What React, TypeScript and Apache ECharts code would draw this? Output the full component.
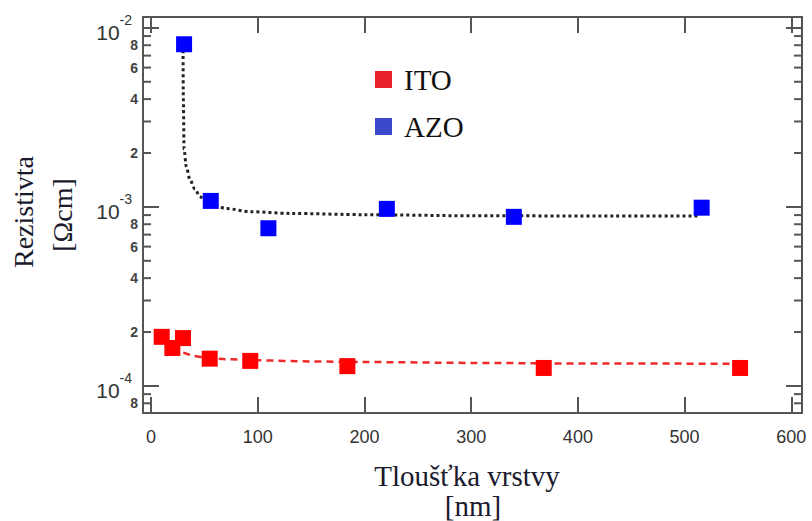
import React, { useEffect, useRef } from 'react';
import * as echarts from 'echarts';

// Axis extents
const X_MIN = -7.5;
const X_MAX = 610;
const Y_MIN = 7.06e-5;
const Y_MAX = 1.15e-2;

// ITO measured points
const itoThickness = [10, 20, 30, 55, 93, 184, 368, 552];
const itoResistivity = [1.88e-4, 1.63e-4, 1.85e-4, 1.42e-4, 1.38e-4, 1.29e-4, 1.26e-4, 1.26e-4];

// AZO measured points
const azoThickness = [31, 56, 110, 221, 340, 516];
const azoResistivity = [8.1e-3, 1.08e-3, 7.6e-4, 9.75e-4, 8.8e-4, 9.9e-4];

// ITO fit curve
const itoFitThickness = [20, 25, 30, 40, 50, 70, 100, 150, 200, 300, 400, 552];
const itoFitResistivity = [1.63e-4, 1.57e-4, 1.53e-4, 1.47e-4, 1.44e-4, 1.41e-4, 1.39e-4, 1.37e-4, 1.36e-4, 1.345e-4, 1.335e-4, 1.33e-4];

// AZO fit curve
const azoFitThickness = [30, 30.3, 31, 33, 36.5, 41, 46, 52, 58, 70, 93, 130, 200, 300, 420, 512];
const azoFitResistivity = [8.1e-3, 4.0e-3, 2.1e-3, 1.68e-3, 1.42e-3, 1.26e-3, 1.14e-3, 1.07e-3, 1.03e-3, 9.8e-4, 9.4e-4, 9.2e-4, 9.05e-4, 8.92e-4, 8.9e-4, 8.9e-4];

// Minor ticks of the log axis and their labels
const yMinorTicks = [8e-5, 9e-5, 2e-4, 3e-4, 4e-4, 5e-4, 6e-4, 7e-4, 8e-4, 9e-4, 2e-3, 3e-3, 4e-3, 5e-3, 6e-3, 7e-3, 8e-3, 9e-3];
const yMinorLabels = ['8', '', '2', '', '4', '', '6', '', '8', '', '2', '', '4', '', '6', '', '8', ''];

const xTickLabels = ['0', '100', '200', '300', '400', '500', '600'];

const AXIS_COLOR = '#555555';
const TITLE_COLOR = '#1a1a2e';

export default function App() {
  const ref = useRef<HTMLDivElement>(null);

  useEffect(() => {
    if (!ref.current) return;
    const chart = echarts.init(ref.current, undefined, { renderer: 'svg' });

    const pair = (xs: number[], ys: number[]) => xs.map((x, i) => [x, ys[i]]);

    const decadeFormatter = (v: number) => {
      const e = Math.log10(v);
      const r = Math.round(e);
      if (Math.abs(e - r) > 1e-6) return '';
      return '{b|10}{s|' + r + '}';
    };

    const xFormatter = (v: number) => {
      const s = String(Math.round(v));
      return Math.abs(v - Math.round(v)) < 1e-6 && xTickLabels.indexOf(s) >= 0 ? s : '';
    };

    const option: any = {
      animation: false,
      backgroundColor: '#ffffff',
      grid: { left: 143, right: 10, top: 17, bottom: 108 },
      legend: {
        data: [
          { name: 'ITO', itemStyle: { color: '#e8202a' } },
          { name: 'AZO', itemStyle: { color: '#3a48cc' } },
        ],
        orient: 'vertical',
        left: 370,
        top: 60,
        itemWidth: 17,
        itemHeight: 17,
        itemGap: 18,
        icon: 'rect',
        selectedMode: false,
        textStyle: {
          fontFamily: 'Liberation Serif',
          fontSize: 29,
          color: '#111111',
          padding: [0, 0, 0, 7],
        },
      },
      xAxis: [
        {
          type: 'value',
          min: X_MIN,
          max: X_MAX,
          position: 'bottom',
          axisLine: { show: true, onZero: false, lineStyle: { color: AXIS_COLOR, width: 2 } },
          axisTick: { show: true, inside: true, length: 16, lineStyle: { color: AXIS_COLOR, width: 2 } },
          splitLine: { show: false },
          axisLabel: {
            formatter: xFormatter,
            color: '#333333',
            fontSize: 18,
            fontFamily: 'Liberation Sans',
            margin: 15,
            showMinLabel: true,
            showMaxLabel: true,
          },
        },
        {
          type: 'value',
          min: X_MIN,
          max: X_MAX,
          position: 'top',
          axisLine: { show: true, onZero: false, lineStyle: { color: AXIS_COLOR, width: 2 } },
          axisTick: { show: true, inside: true, length: 16, lineStyle: { color: AXIS_COLOR, width: 2 } },
          splitLine: { show: false },
          axisLabel: { show: false },
        },
      ],
      yAxis: [
        {
          type: 'log',
          logBase: 10,
          min: Y_MIN,
          max: Y_MAX,
          position: 'left',
          axisLine: { show: true, onZero: false, lineStyle: { color: AXIS_COLOR, width: 2 } },
          axisTick: { show: true, inside: true, length: 16, lineStyle: { color: AXIS_COLOR, width: 2 } },
          splitLine: { show: false },
          axisLabel: {
            formatter: decadeFormatter,
            margin: 11,
            rich: {
              b: { fontSize: 21, fontFamily: 'Liberation Sans', color: '#333333', verticalAlign: 'bottom', lineHeight: 30 },
              s: { fontSize: 14, fontFamily: 'Liberation Sans', color: '#333333', verticalAlign: 'top', lineHeight: 30 },
            },
          },
        },
        {
          type: 'log',
          logBase: 10,
          min: Y_MIN,
          max: Y_MAX,
          position: 'right',
          axisLine: { show: true, onZero: false, lineStyle: { color: AXIS_COLOR, width: 2 } },
          axisTick: { show: true, inside: true, length: 16, lineStyle: { color: AXIS_COLOR, width: 2 } },
          splitLine: { show: false },
          axisLabel: { show: false },
        },
      ],
      graphic: [
        {
          type: 'text',
          x: 23,
          y: 212,
          rotation: Math.PI / 2,
          style: { text: 'Rezistivta', font: '28px "Liberation Serif"', fill: TITLE_COLOR, align: 'center', verticalAlign: 'middle' },
        },
        {
          type: 'text',
          x: 62,
          y: 215,
          rotation: Math.PI / 2,
          style: { text: '[Ωcm]', font: '28px "Liberation Serif"', fill: TITLE_COLOR, align: 'center', verticalAlign: 'middle' },
        },
        {
          type: 'text',
          x: 467,
          y: 476,
          style: { text: 'Tloušťka vrstvy', font: '29px "Liberation Serif"', fill: TITLE_COLOR, align: 'center', verticalAlign: 'middle' },
        },
        {
          type: 'text',
          x: 473,
          y: 506,
          style: { text: '[nm]', font: '29px "Liberation Serif"', fill: TITLE_COLOR, align: 'center', verticalAlign: 'middle' },
        },
      ],
      series: [
        {
          name: 'minor ticks',
          type: 'custom',
          xAxisIndex: 0,
          yAxisIndex: 0,
          silent: true,
          z: 1,
          data: yMinorTicks.map((v) => [X_MIN, v]),
          encode: { x: 0, y: 1 },
          renderItem: (params: any, api: any) => {
            const v = api.value(1);
            const label = yMinorLabels[params.dataIndex];
            const left = api.coord([X_MIN, v]);
            const right = api.coord([X_MAX, v]);
            const children: any[] = [
              {
                type: 'line',
                shape: { x1: left[0], y1: left[1], x2: left[0] + 8, y2: left[1] },
                style: { stroke: AXIS_COLOR, lineWidth: 2 },
              },
              {
                type: 'line',
                shape: { x1: right[0] - 8, y1: right[1], x2: right[0], y2: right[1] },
                style: { stroke: AXIS_COLOR, lineWidth: 2 },
              },
            ];
            if (label) {
              children.push({
                type: 'text',
                style: {
                  text: label,
                  x: left[0] - 5,
                  y: left[1],
                  align: 'right',
                  verticalAlign: 'middle',
                  fontSize: 14,
                  fontWeight: 'bold',
                  fontFamily: 'Liberation Sans',
                  fill: '#444444',
                },
              });
            }
            return { type: 'group', children };
          },
        },
        {
          name: 'ITO fit',
          type: 'line',
          xAxisIndex: 0,
          yAxisIndex: 0,
          data: pair(itoFitThickness, itoFitResistivity),
          showSymbol: false,
          symbol: 'none',
          smooth: 0.3,
          smoothMonotone: 'x',
          z: 2,
          silent: true,
          lineStyle: { color: '#ee2a2a', width: 2.5, type: [7, 5] },
        },
        {
          name: 'AZO fit',
          type: 'line',
          xAxisIndex: 0,
          yAxisIndex: 0,
          data: pair(azoFitThickness, azoFitResistivity),
          showSymbol: false,
          symbol: 'none',
          smooth: 0.3,
          smoothMonotone: 'x',
          z: 2,
          silent: true,
          lineStyle: { color: '#222222', width: 3, type: [3, 3] },
        },
        {
          name: 'ITO',
          type: 'scatter',
          xAxisIndex: 0,
          yAxisIndex: 0,
          data: pair(itoThickness, itoResistivity),
          symbol: 'rect',
          symbolSize: 16,
          z: 3,
          itemStyle: { color: '#ff0000', opacity: 1 },
        },
        {
          name: 'AZO',
          type: 'scatter',
          xAxisIndex: 0,
          yAxisIndex: 0,
          data: pair(azoThickness, azoResistivity),
          symbol: 'rect',
          symbolSize: 16,
          z: 3,
          itemStyle: { color: '#0000ff', opacity: 1 },
        },
      ],
    };

    chart.setOption(option);
    return () => chart.dispose();
  }, []);

  return (
    <div
      ref={ref}
      style={{ position: 'fixed', left: 0, top: 0, width: 812, height: 521, background: '#ffffff' }}
    />
  );
}
